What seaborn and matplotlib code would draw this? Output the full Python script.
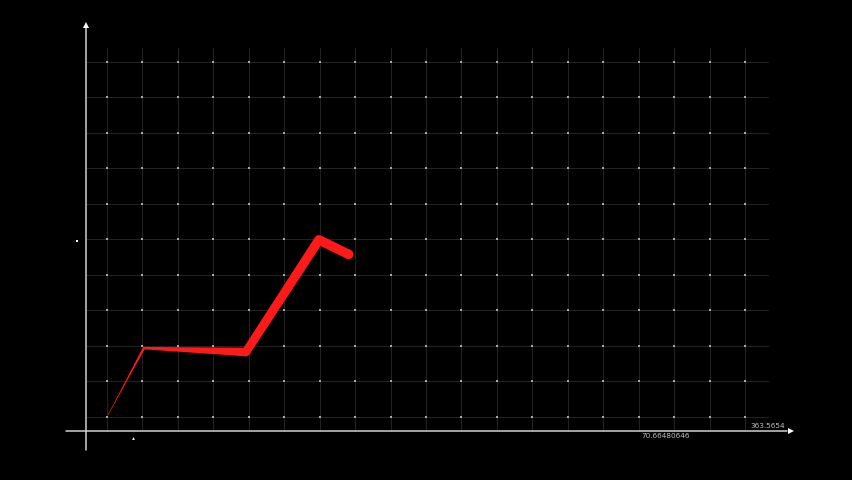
import matplotlib
matplotlib.use("Agg")
import matplotlib.pyplot as plt
from matplotlib.patches import Polygon, Circle
from matplotlib.transforms import IdentityTransform
import seaborn as sns
import pandas as pd
import numpy as np

sns.set_theme(style="dark", rc={"figure.facecolor": "black", "axes.facecolor": "black"})

# line values, in grid units
line_x = [0.03, 1.04, 3.92, 5.98, 6.82]
line_y = [0.06, 1.94, 1.83, 4.99, 4.58]

grid_cols = list(range(0, 19))
grid_rows = list(range(0, 11))

x_label_low = "70.66480646"
x_label_high = "363.5654"

fig = plt.figure(figsize=(8.52, 4.80), dpi=100)
ax = fig.add_axes([0, 0, 1, 1])
ax.set_xlim(-3.019, 21.02)
ax.set_ylim(-1.775, 11.746)
ax.set_axis_off()

xaxis_y = -0.394
yaxis_x = -0.593
grid_top = 10.39
grid_right = 18.65

# grid
for c in grid_cols:
    ax.plot([c, c], [xaxis_y, grid_top], color="#242424", lw=0.7, zorder=1)
for r in grid_rows:
    ax.plot([yaxis_x, grid_right], [r, r], color="#242424", lw=0.7, zorder=1)

dots = pd.DataFrame([(c, r) for c in grid_cols for r in grid_rows], columns=["c", "r"])
sns.scatterplot(data=dots, x="c", y="r", ax=ax, s=2.8, color="#a8a8a8",
                linewidth=0, marker="s", zorder=2)

# axes with arrows
ax.plot([-1.157, 19.2], [xaxis_y, xaxis_y], color="#cfcfcf", lw=1.1, zorder=3)
ax.plot([yaxis_x, yaxis_x], [-0.93, 10.95], color="#cfcfcf", lw=1.1, zorder=3)
ax.plot([19.3], [xaxis_y], marker=">", ms=4.5, color="white", mew=0, zorder=4)
ax.plot([yaxis_x], [11.05], marker="^", ms=4.5, color="white", mew=0, zorder=4)

# small marks
ax.plot([-0.849], [4.96], marker="s", ms=1.6, color="white", mew=0, zorder=4)
ax.plot([0.734], [-0.59], marker="^", ms=2.0, color="white", mew=0, zorder=4)

ax.text(15.07, -0.535, x_label_low, color="#bdbdbd", fontsize=5.2,
        ha="left", va="center", zorder=4)
ax.text(19.13, -0.25, x_label_high, color="#bdbdbd", fontsize=5.2,
        ha="right", va="center", zorder=4)

# line spine
red = "#ff1a1a"
df = pd.DataFrame({"x": line_x, "y": line_y})
sns.lineplot(data=df, x="x", y="y", ax=ax, color=red, lw=0.4,
             sort=False, estimator=None, zorder=5)
ax.set_xlabel("")
ax.set_ylabel("")

# tapered stroke, widening along its length
pts = ax.transData.transform(np.column_stack([line_x, line_y]))
seg = np.hypot(*np.diff(pts, axis=0).T)
frac = np.concatenate([[0], np.cumsum(seg)]) / seg.sum()
widths = 9.5 * np.minimum(1.0, frac / 0.55) ** 1.5
for i in range(len(pts) - 1):
    a, b = pts[i], pts[i + 1]
    d = (b - a) / np.hypot(*(b - a))
    n = np.array([-d[1], d[0]])
    wa, wb = widths[i] / 2, widths[i + 1] / 2
    poly = [a + n * wa, b + n * wb, b - n * wb, a - n * wa]
    ax.add_patch(Polygon(poly, closed=True, facecolor=red, edgecolor="none",
                         transform=IdentityTransform(), zorder=6))
for i in range(1, len(pts)):
    ax.add_patch(Circle(pts[i], widths[i] / 2, facecolor=red, edgecolor="none",
                        transform=IdentityTransform(), zorder=6))

fig.savefig("out.png", dpi=100, facecolor="black")
